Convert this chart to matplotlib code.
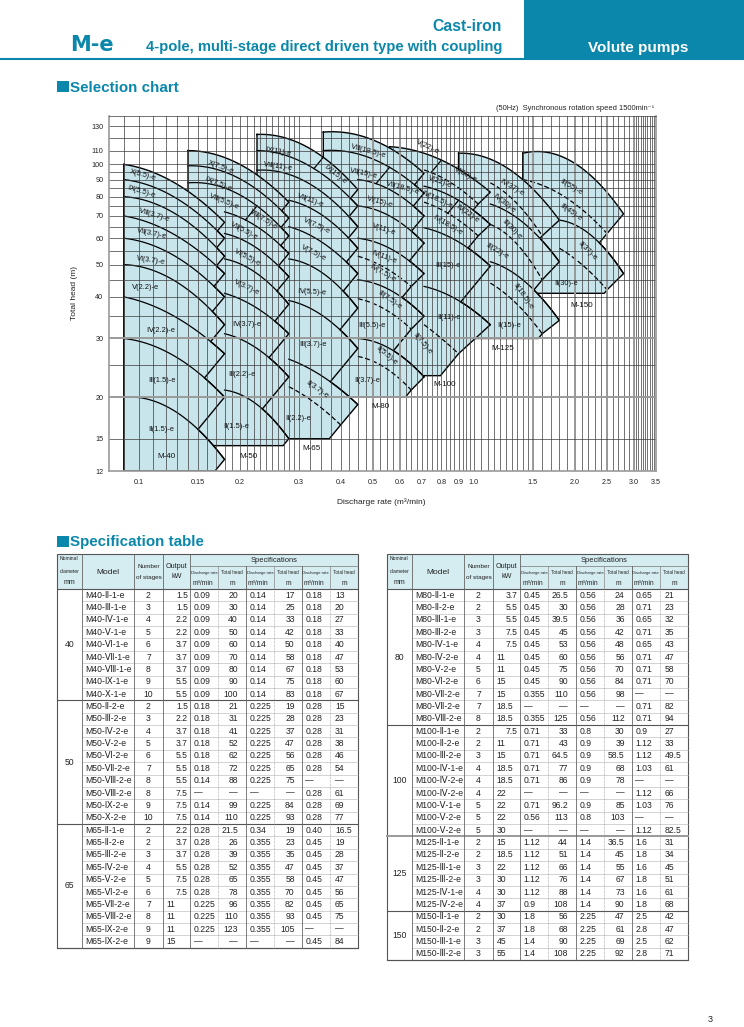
import numpy as np
import matplotlib.pyplot as plt
from matplotlib.patches import Rectangle, Polygon
from matplotlib.ticker import NullLocator

plt.rcParams['font.family'] = ['Liberation Sans', 'DejaVu Sans']

TEAL = '#0a87aa'
BLUE = '#c8e5ec'
HEAD = '#d5ecf1'
INK = '#222222'

# ---------------------------------------------------
# Datos de la tabla de especificaciones
# (caudal m3/min, altura m) x 3 puntos por modelo
# ---------------------------------------------------
M40_MODEL = ["M40-Ⅱ-1-e", "M40-Ⅲ-1-e", "M40-Ⅳ-1-e", "M40-Ⅴ-1-e", "M40-Ⅵ-1-e",
             "M40-Ⅶ-1-e", "M40-Ⅷ-1-e", "M40-Ⅸ-1-e", "M40-Ⅹ-1-e"]
M40_STAGE = ["2", "3", "4", "5", "6", "7", "8", "9", "10"]
M40_KW = ["1.5", "1.5", "2.2", "2.2", "3.7", "3.7", "3.7", "5.5", "5.5"]
M40_SPEC = [["0.09", "20", "0.14", "17", "0.18", "13"],
            ["0.09", "30", "0.14", "25", "0.18", "20"],
            ["0.09", "40", "0.14", "33", "0.18", "27"],
            ["0.09", "50", "0.14", "42", "0.18", "33"],
            ["0.09", "60", "0.14", "50", "0.18", "40"],
            ["0.09", "70", "0.14", "58", "0.18", "47"],
            ["0.09", "80", "0.14", "67", "0.18", "53"],
            ["0.09", "90", "0.14", "75", "0.18", "60"],
            ["0.09", "100", "0.14", "83", "0.18", "67"]]

M50_MODEL = ["M50-Ⅱ-2-e", "M50-Ⅲ-2-e", "M50-Ⅳ-2-e", "M50-Ⅴ-2-e", "M50-Ⅵ-2-e",
             "M50-Ⅶ-2-e", "M50-Ⅷ-2-e", "M50-Ⅷ-2-e", "M50-Ⅸ-2-e", "M50-Ⅹ-2-e"]
M50_STAGE = ["2", "3", "4", "5", "6", "7", "8", "8", "9", "10"]
M50_KW = ["1.5", "2.2", "3.7", "3.7", "5.5", "5.5", "5.5", "7.5", "7.5", "7.5"]
M50_SPEC = [["0.18", "21", "0.225", "19", "0.28", "15"],
            ["0.18", "31", "0.225", "28", "0.28", "23"],
            ["0.18", "41", "0.225", "37", "0.28", "31"],
            ["0.18", "52", "0.225", "47", "0.28", "38"],
            ["0.18", "62", "0.225", "56", "0.28", "46"],
            ["0.18", "72", "0.225", "65", "0.28", "54"],
            ["0.14", "88", "0.225", "75", "—", "—"],
            ["—", "—", "—", "—", "0.28", "61"],
            ["0.14", "99", "0.225", "84", "0.28", "69"],
            ["0.14", "110", "0.225", "93", "0.28", "77"]]

M65_MODEL = ["M65-Ⅱ-1-e", "M65-Ⅱ-2-e", "M65-Ⅲ-2-e", "M65-Ⅳ-2-e", "M65-Ⅴ-2-e",
             "M65-Ⅵ-2-e", "M65-Ⅶ-2-e", "M65-Ⅷ-2-e", "M65-Ⅸ-2-e", "M65-Ⅸ-2-e"]
M65_STAGE = ["2", "2", "3", "4", "5", "6", "7", "8", "9", "9"]
M65_KW = ["2.2", "3.7", "3.7", "5.5", "7.5", "7.5", "11", "11", "11", "15"]
M65_SPEC = [["0.28", "21.5", "0.34", "19", "0.40", "16.5"],
            ["0.28", "26", "0.355", "23", "0.45", "19"],
            ["0.28", "39", "0.355", "35", "0.45", "28"],
            ["0.28", "52", "0.355", "47", "0.45", "37"],
            ["0.28", "65", "0.355", "58", "0.45", "47"],
            ["0.28", "78", "0.355", "70", "0.45", "56"],
            ["0.225", "96", "0.355", "82", "0.45", "65"],
            ["0.225", "110", "0.355", "93", "0.45", "75"],
            ["0.225", "123", "0.355", "105", "—", "—"],
            ["—", "—", "—", "—", "0.45", "84"]]

M80_MODEL = ["M80-Ⅱ-1-e", "M80-Ⅱ-2-e", "M80-Ⅲ-1-e", "M80-Ⅲ-2-e", "M80-Ⅳ-1-e",
             "M80-Ⅳ-2-e", "M80-Ⅴ-2-e", "M80-Ⅵ-2-e", "M80-Ⅶ-2-e", "M80-Ⅶ-2-e",
             "M80-Ⅷ-2-e"]
M80_STAGE = ["2", "2", "3", "3", "4", "4", "5", "6", "7", "7", "8"]
M80_KW = ["3.7", "5.5", "5.5", "7.5", "7.5", "11", "11", "15", "15", "18.5", "18.5"]
M80_SPEC = [["0.45", "26.5", "0.56", "24", "0.65", "21"],
            ["0.45", "30", "0.56", "28", "0.71", "23"],
            ["0.45", "39.5", "0.56", "36", "0.65", "32"],
            ["0.45", "45", "0.56", "42", "0.71", "35"],
            ["0.45", "53", "0.56", "48", "0.65", "43"],
            ["0.45", "60", "0.56", "56", "0.71", "47"],
            ["0.45", "75", "0.56", "70", "0.71", "58"],
            ["0.45", "90", "0.56", "84", "0.71", "70"],
            ["0.355", "110", "0.56", "98", "—", "—"],
            ["—", "—", "—", "—", "0.71", "82"],
            ["0.355", "125", "0.56", "112", "0.71", "94"]]

M100_MODEL = ["M100-Ⅱ-1-e", "M100-Ⅱ-2-e", "M100-Ⅲ-2-e", "M100-Ⅳ-1-e", "M100-Ⅳ-2-e",
              "M100-Ⅳ-2-e", "M100-Ⅴ-1-e", "M100-Ⅴ-2-e", "M100-Ⅴ-2-e"]
M100_STAGE = ["2", "2", "3", "4", "4", "4", "5", "5", "5"]
M100_KW = ["7.5", "11", "15", "18.5", "18.5", "22", "22", "22", "30"]
M100_SPEC = [["0.71", "33", "0.8", "30", "0.9", "27"],
             ["0.71", "43", "0.9", "39", "1.12", "33"],
             ["0.71", "64.5", "0.9", "58.5", "1.12", "49.5"],
             ["0.71", "77", "0.9", "68", "1.03", "61"],
             ["0.71", "86", "0.9", "78", "—", "—"],
             ["—", "—", "—", "—", "1.12", "66"],
             ["0.71", "96.2", "0.9", "85", "1.03", "76"],
             ["0.56", "113", "0.8", "103", "—", "—"],
             ["—", "—", "—", "—", "1.12", "82.5"]]

M125_MODEL = ["M125-Ⅱ-1-e", "M125-Ⅱ-2-e", "M125-Ⅲ-1-e", "M125-Ⅲ-2-e", "M125-Ⅳ-1-e",
              "M125-Ⅳ-2-e"]
M125_STAGE = ["2", "2", "3", "3", "4", "4"]
M125_KW = ["15", "18.5", "22", "30", "30", "37"]
M125_SPEC = [["1.12", "44", "1.4", "36.5", "1.6", "31"],
             ["1.12", "51", "1.4", "45", "1.8", "34"],
             ["1.12", "66", "1.4", "55", "1.6", "45"],
             ["1.12", "76", "1.4", "67", "1.8", "51"],
             ["1.12", "88", "1.4", "73", "1.6", "61"],
             ["0.9", "108", "1.4", "90", "1.8", "68"]]

M150_MODEL = ["M150-Ⅱ-1-e", "M150-Ⅱ-2-e", "M150-Ⅲ-1-e", "M150-Ⅲ-2-e"]
M150_STAGE = ["2", "2", "3", "3"]
M150_KW = ["30", "37", "45", "55"]
M150_SPEC = [["1.8", "56", "2.25", "47", "2.5", "42"],
             ["1.8", "68", "2.25", "61", "2.8", "47"],
             ["1.4", "90", "2.25", "69", "2.5", "62"],
             ["1.4", "108", "2.25", "92", "2.8", "71"]]

# altura del borde inferior de cada familia en el grafico (m)
BOTTOM = {"40": 12, "50": 14.3, "65": 15, "80": 20, "100": 23.2, "125": 30, "150": 41}

# ---------------------------------------------------
# Etiquetas del grafico: texto, caudal, altura, giro
# ---------------------------------------------------
LABELS = [
    ("Ⅹ(5.5)-e", 0.1026, 93.0, -15), ("Ⅸ(5.5)-e", 0.1014, 82.5, -17),
    ("Ⅷ(3.7)-e", 0.111, 70.5, -17), ("Ⅶ(3.7)-e", 0.109, 62.0, -12),
    ("Ⅵ(3.7)-e", 0.1084, 51.5, -8), ("Ⅴ(2.2)-e", 0.1042, 42.6, 0),
    ("Ⅳ(2.2)-e", 0.1161, 31.6, 0), ("Ⅲ(1.5)-e", 0.1174, 22.4, 0),
    ("Ⅱ(1.5)-e", 0.1161, 16.0, 0),
    ("Ⅹ(7.5)-e", 0.1757, 98.0, -20), ("Ⅸ(7.5)-e", 0.1725, 87.0, -22),
    ("Ⅷ(5.5)-e", 0.1793, 77.3, -22), ("Ⅷ(7.5)-e", 0.235, 68.3, -32),
    ("Ⅶ(5.5)-e", 0.2058, 63.2, -28), ("Ⅵ(5.5)-e", 0.2105, 52.6, -28),
    ("Ⅴ(3.7)-e", 0.2097, 42.6, -25), ("Ⅳ(3.7)-e", 0.2097, 33.1, 0),
    ("Ⅲ(2.2)-e", 0.2026, 23.4, 0), ("Ⅱ(1.5)-e", 0.1948, 16.3, 0),
    ("Ⅸ(11)-e", 0.2605, 109.2, -10), ("Ⅷ(11)-e", 0.2605, 98.4, -8),
    ("Ⅸ(15)-e", 0.3846, 92.9, -38), ("Ⅶ(11)-e", 0.324, 78.0, -20),
    ("Ⅵ(7.5)-e", 0.3392, 65.1, -25), ("Ⅴ(7.5)-e", 0.333, 54.1, -27),
    ("Ⅳ(5.5)-e", 0.3278, 41.3, -3), ("Ⅲ(3.7)-e", 0.3314, 28.8, 0),
    ("Ⅱ(3.7)-e", 0.3406, 21.1, -35), ("Ⅱ(2.2)-e", 0.2989, 17.3, 0),
    ("Ⅷ(18.5)-e", 0.4836, 109.2, -15), ("Ⅶ(15)-e", 0.4672, 94.0, -12),
    ("Ⅶ(18.5)-e", 0.614, 84.7, -15), ("Ⅵ(15)-e", 0.524, 77.0, -15),
    ("Ⅴ(11)-e", 0.5387, 63.8, -18), ("Ⅳ(11)-e", 0.5387, 52.6, -20),
    ("Ⅳ(7.5)-e", 0.5324, 47.0, -30), ("Ⅲ(7.5)-e", 0.5614, 39.1, -35),
    ("Ⅲ(5.5)-e", 0.4969, 32.8, 0), ("Ⅱ(5.5)-e", 0.5488, 26.6, -40),
    ("Ⅱ(3.7)-e", 0.4802, 22.4, 0),
    ("Ⅴ(22)-e", 0.729, 113.0, -25), ("Ⅴ(22)-e", 0.7916, 88.3, -20),
    ("Ⅴ(30)-e", 0.9464, 93.3, -28), ("Ⅳ(18.5)-e", 0.777, 78.4, -25),
    ("Ⅳ(22)-e", 0.955, 71.2, -35), ("Ⅳ(18.5)-e", 0.835, 65.6, -30),
    ("Ⅲ(15)-e", 0.838, 49.7, 0), ("Ⅱ(11)-e", 0.842, 34.7, 0),
    ("Ⅱ(7.5)-e", 0.703, 29.0, -50),
    ("Ⅳ(37)-e", 1.296, 85.1, -30), ("Ⅳ(30)-e", 1.229, 76.5, -38),
    ("Ⅲ(30)-e", 1.296, 63.7, -45), ("Ⅲ(22)-e", 1.174, 55.0, -30),
    ("Ⅱ(18.5)-e", 1.404, 40.0, -55), ("Ⅱ(15)-e", 1.275, 32.8, 0),
    ("Ⅲ(55)-e", 1.944, 85.5, -30), ("Ⅲ(45)-e", 1.944, 71.5, -35),
    ("Ⅱ(37)-e", 2.179, 55.0, -45), ("Ⅱ(30)-e", 1.891, 44.0, 0),
]
SIZE_LABELS = [("M-40", 0.121, 13.3), ("M-50", 0.212, 13.3), ("M-65", 0.3278, 14.0),
               ("M-80", 0.5253, 18.7), ("M-100", 0.819, 21.8), ("M-125", 1.223, 28.0),
               ("M-150", 2.101, 37.7)]

XT = [0.1, 0.15, 0.2, 0.3, 0.4, 0.5, 0.6, 0.7, 0.8, 0.9, 1.0, 1.5, 2.0, 2.5, 3.0, 3.5]
XTL = ["0.1", "0.15", "0.2", "0.3", "0.4", "0.5", "0.6", "0.7", "0.8", "0.9", "1.0",
       "1.5", "2.0", "2.5", "3.0", "3.5"]
YT = [12, 15, 20, 30, 40, 50, 60, 70, 80, 90, 100, 110, 130]

FAMILIES = [("40", M40_MODEL, M40_STAGE, M40_KW, M40_SPEC),
            ("50", M50_MODEL, M50_STAGE, M50_KW, M50_SPEC),
            ("65", M65_MODEL, M65_STAGE, M65_KW, M65_SPEC),
            ("80", M80_MODEL, M80_STAGE, M80_KW, M80_SPEC),
            ("100", M100_MODEL, M100_STAGE, M100_KW, M100_SPEC),
            ("125", M125_MODEL, M125_STAGE, M125_KW, M125_SPEC),
            ("150", M150_MODEL, M150_STAGE, M150_KW, M150_SPEC)]

SLOPE = 1.22   # direccion de los cortes del borde derecho (log-log)


def build_curves(models, specs):
    curves = []
    has2 = any('-2-e' in m for m in models)
    for m, sp in zip(models, specs):
        pts = [(float(sp[2 * i]), float(sp[2 * i + 1])) for i in range(3) if sp[2 * i] != '—']
        if curves and curves[-1]['model'] == m:
            curves[-1]['split'] = curves[-1]['pts'][-1][0]
            curves[-1]['pts'] += pts
        else:
            curves.append({'model': m, 'pts': pts, 'split': None,
                           'dashed': has2 and '-1-e' in m})
    for c in curves:
        lq = np.log10([p[0] for p in c['pts']])
        lh = np.log10([p[1] for p in c['pts']])
        c['coef'] = np.polyfit(lq, lh, 2)
        c['a'], c['b'] = lq[0], lq[-1]
    return curves


def ray_hit(px, py, c):
    t = np.linspace(0, 0.5, 2501)
    g = py - SLOPE * t - np.polyval(c['coef'], px - t)
    k = int(np.argmax(g <= 0))
    if g[k] > 0:
        return c['b']
    return min(px - t[k], c['b'])


def outline(curves, hbot):
    top = curves[-1]
    xs = np.linspace(top['a'], top['b'], 80)
    X = list(xs)
    Y = list(np.polyval(top['coef'], xs))
    px, py = X[-1], Y[-1]
    for c in curves[-2::-1]:
        lq = ray_hit(px, py, c)
        seg = np.linspace(lq, c['b'], 40)
        X += list(seg)
        Y += list(np.polyval(c['coef'], seg))
        px, py = X[-1], Y[-1]
    lb = np.log10(hbot)
    X += [px - (py - lb) / SLOPE, top['a'], top['a']]
    Y += [lb, lb, Y[0]]
    return 10 ** np.array(X), 10 ** np.array(Y)


# ---------------------------------------------------
# Figura y fondo en pixeles
# ---------------------------------------------------
fig = plt.figure(figsize=(7.44, 10.27), dpi=100)
bg = fig.add_axes([0, 0, 1, 1])
bg.set_xlim(0, 744)
bg.set_ylim(1027, 0)
bg.axis('off')

HFONT = ['Liberation Sans', 'DejaVu Sans']
bg.add_patch(Rectangle((524, 0), 220, 59, color=TEAL, lw=0))
bg.plot([0, 744], [59, 59], color=TEAL, lw=1.5)
bg.text(70, 51, "M-e", color=TEAL, fontsize=15, fontweight='bold', family='DejaVu Sans')
bg.text(502, 31, "Cast-iron", color=TEAL, fontsize=11.3, fontweight='bold', ha='right', family=HFONT)
bg.text(502, 51, "4-pole, multi-stage direct driven type with coupling", color=TEAL,
        fontsize=10.6, fontweight='bold', ha='right', family=HFONT)
bg.text(638, 52, "Volute pumps", color='white', fontsize=11, fontweight='bold', ha='center', family=HFONT)

bg.add_patch(Rectangle((57, 81), 12, 11, color=TEAL, lw=0))
bg.text(70, 91.5, "Selection chart", color=TEAL, fontsize=10.9, fontweight='bold')
bg.text(654, 110, "(50Hz)  Synchronous rotation speed 1500min⁻¹", fontsize=5.4,
        ha='right', color=INK)

bg.add_patch(Rectangle((57, 536), 12, 11, color=TEAL, lw=0))
bg.text(70, 546, "Specification table", color=TEAL, fontsize=10.9, fontweight='bold')
bg.text(708, 1022, "3", fontsize=6.5, color=INK)

bg.text(75, 293, "Total head (m)", rotation=90, fontsize=6, ha='center', va='center', color=INK)
bg.text(381, 502, "Discharge rate (m³/min)", fontsize=6, ha='center', va='center', color=INK)

# ---------------------------------------------------
# Grafico de seleccion
# ---------------------------------------------------
ax = fig.add_axes([109 / 744, 1 - 471 / 1027, (656 - 109) / 744, (471 - 115.7) / 1027])
ax.set_xscale('log')
ax.set_yscale('log')
ax.set_xlim(0.0813, 3.5)
ax.set_ylim(12, 140)
ax.patch.set_alpha(0)

for k, (name, models, stages, kws, specs) in enumerate(FAMILIES[::-1]):
    curves = build_curves(models, specs)
    X, Y = outline(curves, BOTTOM[name])
    z = 2 + 2 * k
    ax.add_patch(Polygon(np.column_stack([X, Y]), closed=True, facecolor=BLUE,
                         edgecolor='none', zorder=z))
    ax.plot(X, Y, color='black', lw=1.0, zorder=z + 1, solid_joinstyle='miter')
    for i, c in enumerate(curves[:-1]):
        xs = np.linspace(c['a'], c['b'], 60)
        ax.plot(10 ** xs, 10 ** np.polyval(c['coef'], xs), color='black', lw=0.9,
                ls=(0, (4, 2)) if c['dashed'] else '-', zorder=z + 1)
    for i, c in enumerate(curves):
        if c['split'] and i > 0:
            s = np.log10(c['split'])
            hs = np.polyval(c['coef'], s)
            lq = ray_hit(s, hs, curves[i - 1])
            ax.plot(10 ** np.array([s, lq]),
                    10 ** np.array([hs, np.polyval(curves[i - 1]['coef'], lq)]),
                    color='black', lw=0.9, zorder=z + 1)

# rejilla
vx = [0.09] + list(np.arange(0.1, 0.3, 0.01)) + list(np.arange(0.3, 1.0, 0.025)) + \
     list(np.arange(1.0, 1.5, 0.05)) + list(np.arange(1.5, 3.0, 0.1)) + \
     list(np.arange(3.0, 3.5, 0.05))
for v in vx:
    ax.axvline(v, color='#3a3a3a', lw=0.5, zorder=20)
for v in [0.5, 0.6, 1.5, 2.0, 2.5, 3.0]:
    ax.axvline(v, color='#9a9a9a', lw=1.4, zorder=20)
hy = [15, 25, 35] + list(range(40, 101, 5)) + [110, 120, 130]
for h in hy:
    ax.axhline(h, color='#3a3a3a', lw=0.5, zorder=20)
for h in [20, 30]:
    ax.axhline(h, color='#9a9a9a', lw=1.4, zorder=20)

for side, sp in ax.spines.items():
    sp.set_zorder(21)
    if side == 'top':
        sp.set_color('#3a3a3a')
        sp.set_linewidth(0.5)
    else:
        sp.set_color('#9a9a9a')
        sp.set_linewidth(1.2)

ax.xaxis.set_minor_locator(NullLocator())
ax.yaxis.set_minor_locator(NullLocator())
ax.set_xticks(XT)
ax.set_xticklabels(XTL)
ax.set_yticks(YT)
ax.set_yticklabels([str(v) for v in YT])
ax.tick_params(length=0, labelsize=5.2, colors=INK)
ax.tick_params(axis='x', pad=6)
ax.tick_params(axis='y', pad=4)

for txt, q, h, rot in LABELS:
    ax.text(q, h, txt, fontsize=5.4, rotation=rot, ha='center', va='center',
            color='#111111', zorder=30, rotation_mode='anchor')
for txt, q, h in SIZE_LABELS:
    ax.text(q, h, txt, fontsize=5.8, ha='center', va='center', color='#111111', zorder=30)

# ---------------------------------------------------
# Tablas de especificaciones
# ---------------------------------------------------
COL_OFF = [0, 25, 77.6, 106, 133.6, 161.6, 189.3, 217.3, 245, 273.3, 301]
RH = 12.37


def draw_table(x0, groups):
    e = [x0 + d for d in COL_OFF]
    top, hsep, hb = 554, 566, 589
    nrows = sum(len(g[1]) for g in groups)
    bot = hb + nrows * RH
    bg.add_patch(Rectangle((e[0], top), e[-1] - e[0], hb - top, color=HEAD, lw=0))
    # cabecera
    bg.text((e[0] + e[1]) / 2, 559, "Nominal", fontsize=3.6, ha='center', va='center', color=INK)
    bg.text((e[0] + e[1]) / 2, 571.5, "diameter", fontsize=3.6, ha='center', va='center', color=INK)
    bg.text((e[0] + e[1]) / 2, 582, "mm", fontsize=5, ha='center', va='center', color=INK)
    bg.text((e[1] + e[2]) / 2, 572, "Model", fontsize=6, ha='center', va='center', color=INK)
    bg.text((e[2] + e[3]) / 2, 566.5, "Number", fontsize=4.6, ha='center', va='center', color=INK)
    bg.text((e[2] + e[3]) / 2, 577, "of stages", fontsize=4.6, ha='center', va='center', color=INK)
    bg.text((e[3] + e[4]) / 2, 566.5, "Output", fontsize=5.2, ha='center', va='center', color=INK)
    bg.text((e[3] + e[4]) / 2, 577, "kW", fontsize=5.2, ha='center', va='center', color=INK)
    bg.text((e[4] + e[10]) / 2, 560, "Specifications", fontsize=5.4, ha='center', va='center', color=INK)
    for j in range(3):
        a, b, c = e[4 + 2 * j], e[5 + 2 * j], e[6 + 2 * j]
        bg.text((a + b) / 2, 573, "Discharge rate", fontsize=3.0, ha='center', va='center', color=INK)
        bg.text(a + 2, 583.5, "m³/min", fontsize=4.8, ha='left', va='center', color=INK)
        bg.text((b + c) / 2, 573, "Total head", fontsize=3.3, ha='center', va='center', color=INK)
        bg.text((b + c) / 2, 583.5, "m", fontsize=4.8, ha='center', va='center', color=INK)
    # lineas de cabecera
    bg.plot([e[4], e[10]], [hsep, hsep], color='#777777', lw=0.5)
    for j in range(5, 10):
        bg.plot([e[j], e[j]], [hsep, hb], color='#888888', lw=0.5)
    bg.plot([e[0], e[10]], [hb, hb], color='#555555', lw=0.8)

    r = 0
    for gname, models, stages, kws, specs in groups:
        g0 = hb + r * RH
        for m, st, kw, sp in zip(models, stages, kws, specs):
            yc = hb + (r + 0.5) * RH
            bg.text(e[1] + 3.5, yc, m, fontsize=6.2, ha='left', va='center', color=INK)
            bg.text((e[2] + e[3]) / 2, yc, st, fontsize=6.2, ha='center', va='center', color=INK)
            if float(kw) >= 10:
                bg.text(e[3] + 4, yc, kw, fontsize=6.2, ha='left', va='center', color=INK)
            else:
                bg.text(e[4] - 2.5, yc, kw, fontsize=6.2, ha='right', va='center', color=INK)
            bg.text(e[4] + 3.5, yc, sp[0], fontsize=6.2, ha='left', va='center', color=INK)
            bg.text(e[6] - 8, yc, sp[1], fontsize=6.2, ha='right', va='center', color=INK)
            bg.text(e[6] + 3.5, yc, sp[2], fontsize=6.2, ha='left', va='center', color=INK)
            bg.text(e[8] - 7, yc, sp[3], fontsize=6.2, ha='right', va='center', color=INK)
            bg.text(e[8] + 3.5, yc, sp[4], fontsize=6.2, ha='left', va='center', color=INK)
            bg.text(e[9] + 5, yc, sp[5], fontsize=6.2, ha='left', va='center', color=INK)
            r += 1
            yl = hb + r * RH
            bg.plot([e[1], e[10]], [yl, yl], color='#b0b0b0', lw=0.4)
        g1 = hb + r * RH
        bg.text((e[0] + e[1]) / 2, (g0 + g1) / 2, gname, fontsize=6.2, ha='center', va='center', color=INK)
        lw = 1.4 if gname == "100" else 0.8
        col = '#9a9a9a' if gname == "100" else '#555555'
        bg.plot([e[0], e[10]], [g1, g1], color=col, lw=lw)
    # verticales
    for j in [1, 2, 3, 4, 6, 8]:
        bg.plot([e[j], e[j]], [top if j <= 4 else hsep, bot], color='#666666', lw=0.6)
    for j in [5, 7, 9]:
        bg.plot([e[j], e[j]], [hb, bot], color='#999999', lw=0.5, ls=(0, (1, 1)))
    bg.add_patch(Rectangle((e[0], top), e[-1] - e[0], bot - top, fill=False,
                           edgecolor='#555555', lw=0.8))


draw_table(56.7, FAMILIES[:3])
draw_table(386.7, FAMILIES[3:])

fig.savefig("out.png", dpi=100)
